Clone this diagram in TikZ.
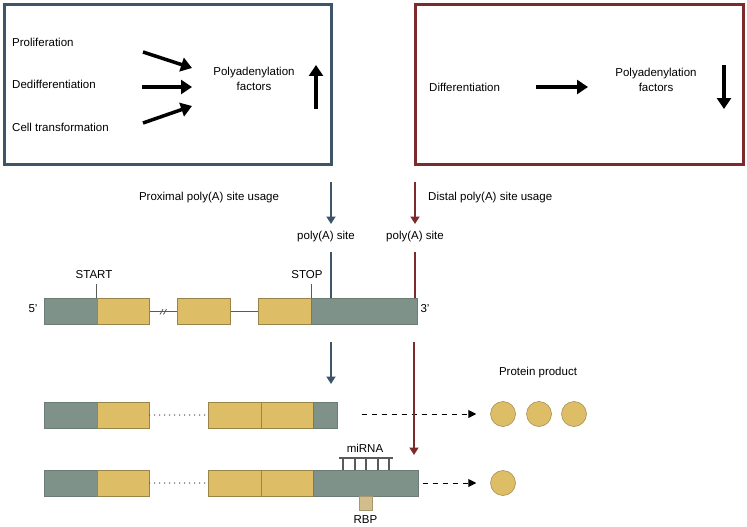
\documentclass[tikz,border=0pt]{standalone}
\usepackage{fontspec}
\setmainfont{Liberation Sans}
\usetikzlibrary{arrows.meta}
\definecolor{boxblue}{HTML}{3E5468}
\definecolor{boxred}{HTML}{7B2B2B}
\definecolor{utrgreen}{HTML}{7E928A}
\definecolor{exonyellow}{HTML}{DDBD66}
\definecolor{rbptan}{HTML}{D2BE8C}
\definecolor{combgray}{HTML}{5A5A5A}
\begin{document}
\begin{tikzpicture}[x=1pt, y=-1pt,
    every node/.style={font=\fontsize{11.5}{15.5}\selectfont, inner sep=0pt},
    utr/.style={fill=utrgreen, draw=utrgreen!85!black, line width=0.6pt, minimum width=#1, minimum height=26pt, anchor=west},
    exon/.style={fill=exonyellow, draw=exonyellow!70!black, line width=0.6pt, minimum width=#1, minimum height=26pt, anchor=west},
    bigarrow/.style={line width=3.5pt, -{Triangle[length=11pt,width=14pt]}},
    usearrow/.style={line width=1.8pt, -{Triangle[length=7.5pt,width=9pt]}},
    dasharrow/.style={line width=1pt, dash pattern=on 5pt off 5pt, -{Triangle[length=8pt,width=8pt]}},
    intron/.style={draw=combgray, line width=1pt},
    dots/.style={draw=combgray, line width=1.5pt, line cap=round, dash pattern=on 0pt off 5pt},
    protein/.style={circle, fill=exonyellow, draw=exonyellow!70!black, line width=0.5pt, minimum size=25pt},
  ]
  \useasboundingbox (0,0) rectangle (747,527);

  % boxes
  \draw[boxblue, line width=3pt] (4,4.3) rectangle (331.5,164.5);
  \draw[boxred, line width=3pt] (415,5) rectangle (743.5,164.5);

  \node[anchor=west] (prol) at (12,42) {Proliferation};
  \node[anchor=west] (dediff) at (12,84) {Dedifferentiation};
  \node[anchor=west] (trans) at (12,127) {Cell transformation};
  \node[align=center] (polyL) at (254,79) {Polyadenylation\\factors};
  \coordinate (a1) at (143,52);  \coordinate (b1) at (192,68);
  \coordinate (a2) at (142,87);  \coordinate (b2) at (192,87);
  \coordinate (a3) at (143,123); \coordinate (b3) at (192,106);
  \coordinate (up1) at (316,109); \coordinate (up2) at (316,65);
  \draw[bigarrow] (a1) -- (b1);
  \draw[bigarrow] (a2) -- (b2);
  \draw[bigarrow] (a3) -- (b3);
  \draw[bigarrow] (up1) -- (up2);

  \node[anchor=west] (diff) at (429,87) {Differentiation};
  \node[align=center] (polyR) at (656,80) {Polyadenylation\\factors};
  \coordinate (a4) at (536,87); \coordinate (b4) at (588,87);
  \coordinate (dn1) at (724,65); \coordinate (dn2) at (724,109);
  \draw[bigarrow] (a4) -- (b4);
  \draw[bigarrow] (dn1) -- (dn2);

  % site usage
  \node (prox) at (209,198) {Proximal poly(A) site usage};
  \node[anchor=west] (dist) at (428,198) {Distal poly(A) site usage};
  \node (siteP) at (326,237) {poly(A) site};
  \node (siteD) at (415,237) {poly(A) site};
  \coordinate (pt) at (331,182); \coordinate (ph) at (331,224);
  \coordinate (dt) at (415,182); \coordinate (dh) at (415,224);
  \draw[usearrow, boxblue] (pt) -- (ph);
  \draw[usearrow, boxred] (dt) -- (dh);

  % gene
  \node[utr=53pt] (g5) at (44,311.5) {};
  \node[exon=52pt] (e1) at (97,311.5) {};
  \node[exon=53pt] (e2) at (177,311.5) {};
  \node[exon=53pt] (e3) at (258,311.5) {};
  \node[utr=106pt] (g3) at (311,311.5) {};
  \draw[intron] (e1.east) -- (e2.west);
  \draw[intron] (e2.east) -- (e3.west);
  \draw[intron, line width=0.8pt] (160,314.5) -- (163,309) (163.5,314.5) -- (166.5,309);
  \node (five) at (33,309) {5'};
  \node (three) at (425,309) {3'};
  \node (start) at (94,275) {START};
  \node (stop) at (307,275) {STOP};
  \coordinate (st) at (96.5,284); \coordinate (sp) at (311,284);
  \draw[combgray, line width=1pt] (st) -- (st |- e1.north);
  \draw[combgray, line width=1pt] (sp) -- (sp |- g3.north);
  \coordinate (pl) at (331,252); \coordinate (dl) at (415,252);
  \draw[boxblue, line width=1.8pt] (pl) -- (pl |- g3.north);
  \draw[boxred, line width=1.8pt] (dl) -- (dl |- g3.north);

  % mRNAs
  \node[utr=53pt] (m5) at (44,415) {};
  \node[exon=52pt] (ma) at (97,415) {};
  \node[exon=53pt] (mb) at (208,415) {};
  \node[exon=52pt] (mc) at (261,415) {};
  \node[utr=24pt] (m3) at (313,415) {};
  \draw[dots] (ma.east) -- (mb.west);

  \node[utr=53pt] (n5) at (44,483) {};
  \node[exon=52pt] (na) at (97,483) {};
  \node[exon=53pt] (nb) at (208,483) {};
  \node[exon=52pt] (nc) at (261,483) {};
  \node[utr=105pt] (n3) at (313,483) {};
  \draw[dots] (na.east) -- (nb.west);

  % miRNA and RBP
  \draw[combgray, line width=2pt] (339,458) -- (393,458);
  \foreach \t in {343,354.5,366,377.5,389}
    \draw[combgray, line width=2pt] (\t,458) -- (\t,470);
  \node (mirna) at (365,448) {miRNA};
  \node[fill=rbptan, draw=rbptan!80!black, line width=0.5pt, minimum width=13pt, minimum height=14pt, anchor=north] (rbp) at (365.5,496) {};
  \node (rbplab) at (365.5,520) {RBP};

  % protein
  \node (prot) at (538,373) {Protein product};
  \node[protein] (p1) at (503,414) {};
  \node[protein] (p2) at (539,414) {};
  \node[protein] (p3) at (574,414) {};
  \node[protein] (q1) at (503,483) {};
  \draw[dasharrow] ([xshift=24pt]m3.east |- p1.west) -- ([xshift=-14pt]p1.west);
  \draw[dasharrow] ([xshift=4pt]n3.east |- q1.west) -- ([xshift=-14pt]q1.west);

  \coordinate (pt2) at (331,342); \coordinate (ph2) at (331,384);
  \coordinate (dt2) at (414,342); \coordinate (dh2) at (414,455);
  \draw[usearrow, boxblue] (pt2) -- (ph2);
  \draw[usearrow, boxred] (dt2) -- (dh2);
\end{tikzpicture}
\end{document}
